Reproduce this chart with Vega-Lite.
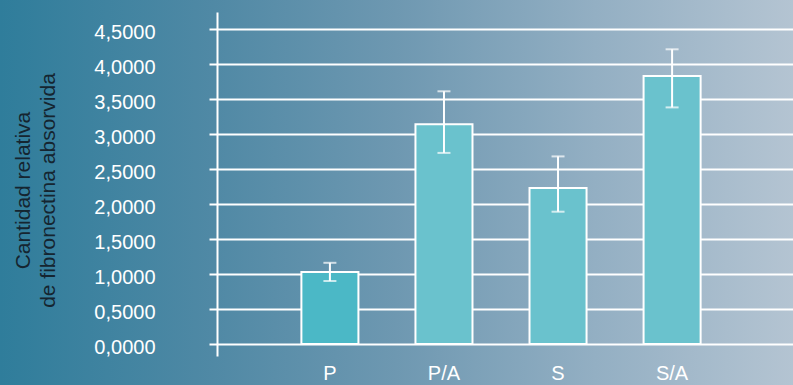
{
  "$schema": "https://vega.github.io/schema/vega-lite/v6.json",
  "autosize": {"type": "none"},
  "padding": 0,
  "width": 793,
  "height": 385,
  "background": "#6a95ae",
  "view": {
    "fill": {
      "gradient": "linear",
      "x1": 0, "y1": 0, "x2": 1, "y2": 0,
      "stops": [
        {"offset": 0, "color": "#2f7d9b"},
        {"offset": 0.27, "color": "#5089a5"},
        {"offset": 0.5, "color": "#6e98b1"},
        {"offset": 0.75, "color": "#93afc3"},
        {"offset": 1, "color": "#b4c4d2"}
      ]
    },
    "stroke": null
  },
  "data": {
    "values": [
      {"grupo": "P", "valor": 1.03, "bajo": 0.90, "alto": 1.16},
      {"grupo": "P/A", "valor": 3.14, "bajo": 2.73, "alto": 3.61},
      {"grupo": "S", "valor": 2.23, "bajo": 1.89, "alto": 2.68},
      {"grupo": "S/A", "valor": 3.83, "bajo": 3.38, "alto": 4.21}
    ]
  },
  "encoding": {
    "x": {
      "field": "grupo",
      "type": "nominal",
      "sort": ["P", "P/A", "S", "S/A"],
      "scale": {"range": [209, 793], "paddingInner": 0.5, "paddingOuter": 0.81},
      "axis": {
        "title": null,
        "orient": "bottom",
        "offset": -6,
        "domain": false,
        "ticks": false,
        "grid": false,
        "labelPadding": 0,
        "labelBaseline": "alphabetic",
        "labelAngle": 0,
        "labelFont": "Liberation Sans",
        "labelFontSize": 20,
        "labelColor": "#ffffff"
      }
    }
  },
  "layer": [
    {
      "mark": {"type": "bar", "stroke": "#ffffff", "strokeWidth": 2},
      "encoding": {
        "y": {
          "field": "valor",
          "type": "quantitative",
          "scale": {"domain": [-0.1714, 4.7429], "range": [356, 12], "nice": false, "zero": false},
          "axis": {
            "title": ["Cantidad relativa", "de fibronectina absorvida"],
            "orient": "left",
            "offset": -217,
            "values": [0, 0.5, 1, 1.5, 2, 2.5, 3, 3.5, 4, 4.5],
            "labelExpr": "replace(format(datum.value, '.4f'), '.', ',')",
            "domain": true,
            "domainColor": "#ffffff",
            "domainWidth": 2,
            "ticks": false,
            "grid": true,
            "gridColor": "#ffffff",
            "gridWidth": 2,
            "gridOpacity": 1,
            "labelPadding": 62,
            "labelOffset": 3,
            "labelFont": "Liberation Sans",
            "labelFontSize": 20,
            "labelColor": "#ffffff",
            "titleFont": "Liberation Sans",
            "titleFontSize": 21,
            "titleFontWeight": "normal",
            "titleColor": "#152530",
            "titleAngle": -90,
            "titleAlign": "center",
            "titleBaseline": "top",
            "titleLineHeight": 25,
            "titleX": -205,
            "titleY": 190
          }
        },
        "y2": {"datum": 0},
        "color": {
          "field": "grupo",
          "type": "nominal",
          "scale": {"domain": ["P", "P/A", "S", "S/A"], "range": ["#4bb8c6", "#6ac2cd", "#6ac2cd", "#6ac2cd"]},
          "legend": null
        }
      }
    },
    {
      "mark": {"type": "rule", "color": "#ffffff", "strokeWidth": 2},
      "encoding": {
        "y": {"field": "bajo", "type": "quantitative"},
        "y2": {"field": "alto"}
      }
    },
    {
      "mark": {"type": "tick", "color": "#ffffff", "size": 13, "thickness": 2},
      "encoding": {
        "y": {"field": "bajo", "type": "quantitative"}
      }
    },
    {
      "mark": {"type": "tick", "color": "#ffffff", "size": 13, "thickness": 2},
      "encoding": {
        "y": {"field": "alto", "type": "quantitative"}
      }
    }
  ]
}
